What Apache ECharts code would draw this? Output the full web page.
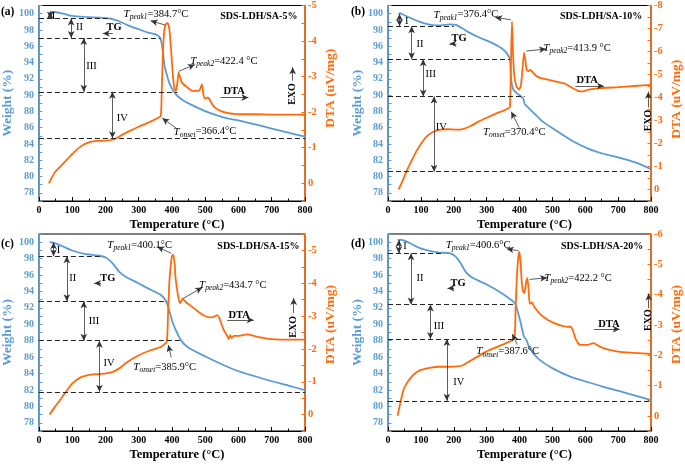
<!DOCTYPE html>
<html><head><meta charset="utf-8">
<script src="https://cdn.jsdelivr.net/npm/echarts@6/dist/echarts.min.js"></script>
<style>html,body{margin:0;padding:0;background:#fff}#c{width:685px;height:465px}</style>
</head><body><div id="c"></div>
<script>
// ---------------- DATA ----------------
const tempLabels = [0,100,200,300,400,500,600,700,800];
const weightLabels = [78,80,82,84,86,88,90,92,94,96,98,100];

const tgA = [[32,100.2],[47,100.2],[62,100.1],[77,99.96],[100,99.72],[137,99.6],[186,99.5],[216,99.4],[241,99.07],[266,98.6],[299,98.1],[326,97.7],[351,97.45],[364,97.05],[369,96.4],[374,94.9],[378,93.5],[384,92.6],[391,91.6],[399,90.9],[406,90.4],[414,90.0],[421,89.74],[435,89.3],[456,88.86],[496,88.1],[536,87.5],[570,87.1],[600,86.9],[650,86.4],[700,85.9],[750,85.4],[800,84.9]];
const dtaA = [[30,0],[40,-0.18],[50,-0.33],[75,-0.57],[100,-0.82],[125,-1.03],[150,-1.15],[175,-1.19],[200,-1.2],[225,-1.23],[250,-1.36],[275,-1.48],[300,-1.59],[325,-1.69],[350,-1.8],[366,-1.89],[369,-2.5],[373,-3.7],[377,-4.3],[382,-4.48],[387,-4.5],[392,-4.35],[397,-3.8],[403,-3.0],[408,-2.65],[412,-2.6],[416,-2.8],[420,-3.12],[424,-3.0],[430,-2.83],[446,-2.7],[461,-2.6],[481,-2.6],[486,-2.68],[490,-2.79],[495,-2.48],[500,-2.38],[506,-2.41],[512,-2.38],[518,-2.27],[525,-2.17],[535,-2.09],[550,-2.02],[565,-1.98],[600,-1.94],[650,-1.94],[700,-1.93],[800,-1.93]];

const tgB = [[32,100],[38,100.05],[42,99.96],[67,99.5],[97,99.0],[127,98.66],[157,98.55],[187,98.68],[206,98.62],[226,98.2],[246,97.7],[276,97.1],[306,96.6],[336,96.0],[356,95.4],[366,94.85],[371,94.5],[374,92.15],[381,90.7],[396,90.1],[411,89.6],[416,88.9],[426,88.5],[446,87.7],[466,86.9],[496,86.05],[556,84.5],[605,83.5],[655,82.8],[705,82.3],[755,81.7],[800,80.9]];
const dtaB = [[32,0],[45,-0.4],[57,-0.82],[70,-1.2],[87,-1.68],[100,-1.98],[117,-2.3],[137,-2.5],[160,-2.6],[180,-2.62],[210,-2.6],[230,-2.64],[250,-2.75],[275,-2.95],[300,-3.12],[325,-3.28],[350,-3.42],[365,-3.52],[371,-3.6],[374,-5.5],[377,-7.3],[380,-6.0],[384,-5.0],[390,-4.5],[398,-4.35],[404,-4.5],[409,-5.2],[414,-5.95],[418,-5.6],[422,-5.2],[428,-5.15],[433,-5.2],[440,-5.1],[450,-4.95],[466,-4.84],[496,-4.74],[536,-4.62],[551,-4.5],[565,-4.38],[580,-4.28],[592,-4.27],[610,-4.34],[640,-4.4],[700,-4.45],[750,-4.5],[800,-4.55]];

const tgC = [[32,100],[47,99.88],[77,99.4],[100,98.99],[137,98.58],[177,98.38],[201,98.14],[221,97.45],[241,96.43],[261,95.8],[299,95.0],[336,94.2],[366,93.6],[381,92.9],[391,91.8],[401,90.35],[411,89.35],[426,88.1],[451,87.1],[499,86.1],[551,85.1],[600,84.28],[650,83.67],[700,83.06],[750,82.54],[800,81.97]];
const dtaC = [[32,0],[47,-0.22],[62,-0.42],[77,-0.63],[100,-0.94],[127,-1.14],[157,-1.22],[187,-1.24],[216,-1.28],[241,-1.4],[266,-1.6],[299,-1.8],[336,-1.96],[366,-2.06],[384,-2.22],[388,-3.0],[392,-4.0],[396,-4.5],[400,-4.82],[404,-4.87],[408,-4.6],[411,-4.15],[418,-3.64],[424,-3.39],[428,-3.45],[432,-3.53],[436,-3.49],[446,-3.39],[466,-3.24],[486,-3.08],[505,-2.98],[520,-2.96],[530,-3.0],[536,-3.03],[542,-2.95],[548,-2.78],[556,-2.57],[566,-2.4],[571,-2.3],[575,-2.42],[580,-2.33],[586,-2.4],[601,-2.4],[626,-2.44],[656,-2.37],[700,-2.3],[750,-2.28],[800,-2.28]];

const tgD = [[29,100.28],[42,100.28],[67,99.88],[97,99.27],[127,98.94],[157,98.74],[187,98.66],[206,98.25],[221,97.44],[236,96.42],[256,95.69],[299,94.88],[346,93.78],[386,92.56],[396,91.34],[404,90.12],[413,88.58],[421,88.09],[431,87.07],[456,85.85],[501,84.63],[556,83.6],[605,82.99],[655,82.38],[705,81.85],[755,81.28],[800,80.76]];
const dtaD = [[29,0],[38,-0.45],[47,-0.85],[57,-1.07],[67,-1.23],[80,-1.38],[97,-1.5],[126,-1.58],[157,-1.62],[187,-1.62],[211,-1.63],[226,-1.66],[256,-1.85],[299,-2.12],[346,-2.34],[384,-2.56],[388,-3.5],[392,-4.6],[396,-5.2],[399,-5.42],[403,-5.1],[407,-4.4],[411,-4.1],[415,-4.05],[420,-4.4],[424,-4.54],[428,-4.1],[431,-3.7],[435,-3.72],[438,-3.74],[444,-3.62],[460,-3.39],[485,-3.17],[515,-3.02],[545,-2.94],[556,-2.94],[563,-2.8],[570,-2.56],[578,-2.4],[585,-2.34],[605,-2.34],[625,-2.4],[645,-2.28],[665,-2.2],[700,-2.12],[750,-2.08],[800,-2.04]];

// stage weight levels (start, end of I, II, III, IV) and dashed-line end temperatures
const levelsA = [100.2, 99.4, 97.0, 90.4, 84.7];
const levelsB = [100.0, 98.45, 94.4, 89.84, 80.6];
const levelsC = [100.0, 98.3, 92.8, 88.0, 81.77];
const levelsD = [100.28, 98.66, 92.42, 88.21, 80.68];
const dashEndA = [218, 366, 416, 800];
const dashEndB = [200, 371, 416, 800];
const dashEndC = [187, 386, 426, 800];
const dashEndD = [167, 386, 413, 800];

const dtaLabelsA = [-5,-4,-3,-2,-1,0];
const dtaLabelsB = [-8,-7,-6,-5,-4,-3,-2,-1,0];
const dtaLabelsC = [-5,-4,-3,-2,-1,0];
const dtaLabelsD = [-6,-5,-4,-3,-2,-1,0];

const samples = ['SDS-LDH/SA-5%','SDS-LDH/SA-10%','SDS-LDH/SA-15%','SDS-LDH/SA-20%'];
const peak1Text = ['384.7','376.4','400.1','400.6'];
const peak2Text = ['422.4','413.9','434.7','422.2'];
const onsetText = ['366.4','370.4','385.9','387.6'];

// ---------------- LAYOUT ----------------
const FONT = 'Liberation Serif';
const BLUE = '#5b9bd5', ORANGE = '#ff6a0a';
const panels = [
  {letter:'(a)', lx:1, ly:6, grid:{left:38, top:4}, dtaMin:-5, tg:tgA, dta:dtaA, levels:levelsA, dashEnd:dashEndA, dtaLabels:dtaLabelsA,
   title:[661,99.66], tgText:[226,98.3], tgArrow:[222,192,97.56],
   arrowT:[34,97,135,221], romanPos:[[44,99.7],[122,98.33],[158,93.6],[251,87.2]],
   p1:[352,-4.75], p1Arrow:[[380,-4.45],[336,-4.57]], p2:[556,-3.44], p2Arrow:[[421,-3.15],[469,-3.34]],
   on:[499,-1.45], onArrow:[[414,-1.54],[371,-1.83]], dtaText:[587,-2.6], dtaArrow:[546,630,-2.41],
   exo:[763,-2.51], exoArrow:[-2.88,-3.26], nameShift:30},
  {letter:'(b)', lx:351, ly:6, grid:{left:388, top:4}, dtaMin:-8, tg:tgB, dta:dtaB, levels:levelsB, dashEnd:dashEndB, dtaLabels:dtaLabelsB,
   title:[648,99.66], tgText:[216,96.93], tgArrow:[208,187,96.3],
   arrowT:[35,72,107,140], romanPos:[[57,99.1],[97,96.3],[130,92.5],[162,86.0]],
   p1:[237,-7.6], p1Arrow:[[374,-7.38],[326,-7.48]], p2:[575,-6.16], p2Arrow:[[421,-6.02],[481,-6.11]],
   on:[384,-2.48], onArrow:[[399,-2.69],[375,-3.38]], dtaText:[606,-4.76], dtaArrow:[570,657,-4.5],
   exo:[792,-3.0], exoArrow:[-3.56,-4.25], nameShift:8},
  {letter:'(c)', lx:1, ly:238, grid:{left:38, top:234}, dtaMin:-5.5, tg:tgC, dta:dtaC, levels:levelsC, dashEnd:dashEndC, dtaLabels:dtaLabelsC,
   title:[660,99.54], tgText:[207,95.63], tgArrow:[187,166,95.0],
   arrowT:[44,84,135,182], romanPos:[[59,99.0],[102,95.63],[166,90.35],[211,85.3]],
   p1:[303,-5.16], p1Arrow:[[398,-4.91],[356,-5.11]], p2:[583,-3.95], p2Arrow:[[434,-3.54],[491,-3.87]],
   on:[378,-1.45], onArrow:[[398,-1.74],[389,-2.12]], dtaText:[602,-3.03], dtaArrow:[566,646,-2.88],
   exo:[766,-2.67], exoArrow:[-3.09,-3.55], nameShift:16},
  {letter:'(d)', lx:351, ly:238, grid:{left:388, top:234}, dtaMin:-6, tg:tgD, dta:dtaD, levels:levelsD, dashEnd:dashEndD, dtaLabels:dtaLabelsD,
   title:[651,99.54], tgText:[213,95.0], tgArrow:[201,181,94.4],
   arrowT:[33,70,129,179], romanPos:[[52,99.54],[97,95.6],[155,89.8],[215,83.0]],
   p1:[274,-5.64], p1Arrow:[[396,-5.45],[361,-5.51]], p2:[578,-4.54], p2Arrow:[[431,-4.5],[484,-4.56]],
   on:[364,-2.12], onArrow:[[393,-2.35],[378,-2.70]], dtaText:[672,-3.02], dtaArrow:[626,705,-2.86],
   exo:[793,-3.16], exoArrow:[-3.55,-4.04], nameShift:16}
];
const GW = 267, GH = 197;
const roman = ['I','II','III','IV'];

const txt = (extra) => Object.assign({show:true, position:'inside', color:'#000', fontFamily:FONT, fontSize:10.5}, extra);
const peakRich = {
  t:{fontStyle:'italic', fontSize:11, fontFamily:FONT, color:'#000', lineHeight:14, verticalAlign:'middle'},
  s:{fontStyle:'italic', fontSize:7.5, fontFamily:FONT, color:'#000', lineHeight:14, verticalAlign:'bottom'},
  n:{fontSize:10.5, fontFamily:FONT, color:'#000', lineHeight:14, verticalAlign:'middle'}
};
const pt = (coord, label) => ({coord, symbol:'circle', symbolSize:1, itemStyle:{color:'rgba(0,0,0,0)'}, label});
const seg = (a, b, s0, s1, style) => [
  Object.assign({coord:a, symbol:s0, symbolSize:[5,7]}, style ? {lineStyle:style} : {}),
  {coord:b, symbol:s1, symbolSize:[5,7]}
];
const signed = (v) => (v < 0 ? '-' + Math.abs(v) : String(v));

const grids=[], xAxes=[], yAxes=[], series=[], graphics=[];
panels.forEach((p, i) => {
  grids.push({left:p.grid.left, top:p.grid.top, width:GW, height:GH, show:true, borderColor:'#000', borderWidth:1, backgroundColor:'rgba(0,0,0,0)'});
  xAxes.push({gridIndex:i, type:'value', min:tempLabels[0], max:tempLabels[tempLabels.length-1], interval:100,
    axisLine:{onZero:false, lineStyle:{color:'#000', width:1}},
    axisTick:{inside:true, length:4, lineStyle:{color:'#000'}},
    minorTick:{show:true, splitNumber:2, length:2.5, lineStyle:{color:'#000'}},
    splitLine:{show:false},
    axisLabel:{margin:4, color:'#000', fontFamily:FONT, fontWeight:'bold', fontSize:10},
    name:'Temperature (°C)', nameLocation:'middle', nameGap:17,
    nameTextStyle:{color:'#000', fontFamily:FONT, fontWeight:'bold', fontSize:12.5, padding:[0,0,0,10]}});
  const wTicks = []; for (let v = 77; v <= 101; v++) wTicks.push(v);
  yAxes.push({gridIndex:i, type:'value', min:77, max:101, position:'left',
    axisLine:{show:true, onZero:false, lineStyle:{color:BLUE, width:1.5}},
    axisTick:{show:true, inside:true, length:3.5, customValues:wTicks, lineStyle:{color:BLUE}},
    axisLabel:{customValues:weightLabels, color:BLUE, fontFamily:FONT, fontWeight:'bold', fontSize:10, margin:5},
    splitLine:{show:false},
    name:'Weight (%)', nameLocation:'middle', nameGap:21, nameRotate:90,
    nameTextStyle:{color:BLUE, fontFamily:FONT, fontWeight:'bold', fontSize:13.5}});
  const dTicks = []; for (let v = p.dtaMin; v <= 0.5001; v += 0.5) dTicks.push(+v.toFixed(1));
  yAxes.push({gridIndex:i, type:'value', min:p.dtaMin, max:0.5, inverse:true, position:'right',
    axisLine:{show:true, onZero:false, lineStyle:{color:ORANGE, width:1.5}},
    axisTick:{show:true, inside:true, length:3.5, customValues:dTicks, lineStyle:{color:ORANGE}},
    axisLabel:{customValues:p.dtaLabels, formatter:signed, color:ORANGE, fontFamily:FONT, fontWeight:'bold', fontSize:10.5, margin:3},
    splitLine:{show:false},
    name:'DTA (uV/mg)', nameLocation:'middle', nameGap:19, nameRotate:90,
    nameTextStyle:{color:ORANGE, fontFamily:FONT, fontWeight:'bold', fontSize:13.5, padding:[0,0,0,p.nameShift]}});

  // TG series with stage lines
  const tgLines = [];
  for (let k = 1; k < p.levels.length; k++) {
    tgLines.push(seg([0, p.levels[k]], [p.dashEnd[k-1], p.levels[k]], 'none', 'none', {type:[5,3], color:'#222', width:1}));
  }
  for (let k = 0; k < 4; k++) {
    tgLines.push(seg([p.arrowT[k], p.levels[k]], [p.arrowT[k], p.levels[k+1]], 'arrow', 'arrow', {type:'solid', color:'#333', width:0.8}));
  }
  tgLines.push(seg([p.tgArrow[0], p.tgArrow[2]], [p.tgArrow[1], p.tgArrow[2]], 'none', 'arrow', {type:'solid', color:'#333', width:0.8}));
  const tgPoints = [
    pt(p.title, txt({formatter:samples[i], fontWeight:'bold', fontSize:10})),
    pt(p.tgText, txt({formatter:'TG', fontWeight:'bold', fontSize:10.5}))
  ];
  for (let k = 0; k < 4; k++) tgPoints.push(pt(p.romanPos[k], txt({formatter:roman[k], fontSize:10.5})));
  series.push({type:'line', name:'TG', xAxisIndex:i, yAxisIndex:2*i, data:p.tg, showSymbol:false, smooth:0.2,
    lineStyle:{color:BLUE, width:1.8}, itemStyle:{color:BLUE}, z:2,
    markLine:{silent:true, animation:false, label:{show:false}, lineStyle:{color:'#000'}, emphasis:{disabled:true}, data:tgLines},
    markPoint:{silent:true, animation:false, data:tgPoints}});

  // DTA series with peak annotations
  const thin = {type:'solid', color:'#333', width:0.8};
  const dLines = [
    seg(p.p1Arrow[0], p.p1Arrow[1], 'none', 'arrow', thin),
    seg(p.p2Arrow[0], p.p2Arrow[1], 'none', 'arrow', thin),
    seg(p.onArrow[0], p.onArrow[1], 'none', 'arrow', thin),
    seg([p.dtaArrow[0], p.dtaArrow[2]], [p.dtaArrow[1], p.dtaArrow[2]], 'none', 'arrow', thin),
    seg([p.exo[0], p.exoArrow[0]], [p.exo[0], p.exoArrow[1]], 'none', 'arrow', thin)
  ];
  const dPoints = [
    pt(p.p1, txt({formatter:'{t|T}{s|peak1}{n|=' + peak1Text[i] + '°C}', rich:peakRich})),
    pt(p.p2, txt({formatter:'{t|T}{s|peak2}{n|=' + peak2Text[i] + ' °C}', rich:peakRich})),
    pt(p.on, txt({formatter:'{t|T}{s|onset}{n|=' + onsetText[i] + '°C}', rich:peakRich})),
    pt(p.dtaText, txt({formatter:'DTA', fontWeight:'bold', fontSize:10.5})),
    pt(p.exo, txt({formatter:'EXO', fontWeight:'bold', fontSize:10, rotate:90}))
  ];
  series.push({type:'line', name:'DTA', xAxisIndex:i, yAxisIndex:2*i+1, data:p.dta, showSymbol:false, smooth:0.2,
    lineStyle:{color:ORANGE, width:1.8}, itemStyle:{color:ORANGE}, z:3,
    markLine:{silent:true, animation:false, label:{show:false}, emphasis:{disabled:true}, data:dLines},
    markPoint:{silent:true, animation:false, data:dPoints}});

  graphics.push({type:'text', left:p.lx, top:p.ly, style:{text:p.letter, font:'bold 11.5px "Liberation Serif"', fill:'#000'}});
});

const chart = echarts.init(document.getElementById('c'), null, {renderer:'canvas'});
chart.setOption({
  animation:false, backgroundColor:'#fff',
  grid:grids, xAxis:xAxes, yAxis:yAxes, series, graphic:graphics,
  tooltip:{show:false}, legend:{show:false}
});
</script></body></html>
